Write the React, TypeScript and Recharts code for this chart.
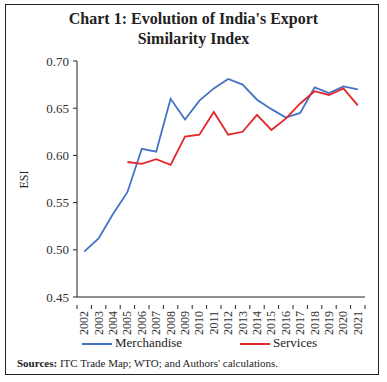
import React from 'react';
import { LineChart, Line, XAxis, YAxis } from 'recharts';

const years = ['2002','2003','2004','2005','2006','2007','2008','2009','2010','2011','2012','2013','2014','2015','2016','2017','2018','2019','2020','2021'];
const merchandise = [0.498,0.512,0.538,0.561,0.607,0.604,0.660,0.638,0.658,0.671,0.681,0.675,0.659,0.649,0.640,0.645,0.672,0.666,0.673,0.670];
const services = [null,null,null,0.593,0.591,0.596,0.590,0.620,0.622,0.646,0.622,0.625,0.643,0.627,0.639,0.655,0.668,0.664,0.671,0.653];
const yTicks = [0.45,0.50,0.55,0.60,0.65,0.70];

const data = years.map((y, i) => ({ year: y, merchandise: merchandise[i], services: services[i] }));

const FONT = '"Liberation Serif", "DejaVu Serif", serif';
const BLUE = '#4472C4';
const RED = '#E3262B';

const PLOT_LEFT = 77;
const PLOT_RIGHT = 365;
const BAND = (PLOT_RIGHT - PLOT_LEFT) / years.length;

const XTick = (props: any) => {
  const { x, y, payload } = props;
  return (
    <g>
      <line x1={x + BAND / 2} y1={y} x2={x + BAND / 2} y2={y + 4} stroke="#222" strokeWidth={1} />
      {payload.index === 0 && <line x1={x - BAND / 2} y1={y} x2={x - BAND / 2} y2={y + 4} stroke="#222" strokeWidth={1} />}
      <text x={0} y={0} transform={`translate(${x + 4},${y + 6}) rotate(-90)`} textAnchor="end" fontSize={12} fontFamily={FONT} fill="#333">
        {payload.value}
      </text>
    </g>
  );
};

export default function App() {
  return (
    <div style={{ position: 'absolute', left: 0, top: 0, width: 387, height: 382, background: '#fff' }}>
      <div style={{ position: 'absolute', left: 5, top: 4, width: 374, height: 371, border: '1.5px solid #222', boxSizing: 'border-box' }} />
      <div style={{ position: 'absolute', left: 0, top: 9, width: 387, textAlign: 'center', fontFamily: FONT, fontWeight: 'bold', fontSize: 16, lineHeight: '20px', color: '#222' }}>
        Chart 1: Evolution of India's Export<br />Similarity Index
      </div>
      <div style={{ position: 'absolute', left: 0, top: 0 }}>
        <LineChart width={387} height={382} data={data} margin={{ top: 61, right: 22, bottom: 50, left: 27 }}>
          <XAxis dataKey="year" interval={0} tick={<XTick />} tickLine={false} axisLine={{ stroke: '#222' }} height={35}
            padding={{ left: BAND / 2, right: BAND / 2 }} />
          <YAxis domain={[0.45, 0.70]} ticks={yTicks} width={50} tickFormatter={(v: number) => v.toFixed(2)}
            tick={{ fontSize: 13, fontFamily: FONT, fill: '#333' }} tickSize={4} tickMargin={4}
            axisLine={{ stroke: '#222' }} tickLine={{ stroke: '#222' }} />
          <Line dataKey="merchandise" stroke={BLUE} strokeWidth={1.8} dot={false} isAnimationActive={false} />
          <Line dataKey="services" stroke={RED} strokeWidth={1.8} dot={false} isAnimationActive={false} />
        </LineChart>
      </div>
      <div style={{ position: 'absolute', left: 14, top: 172, transform: 'rotate(-90deg)', transformOrigin: 'center', width: 20, textAlign: 'center', fontFamily: FONT, fontSize: 12, color: '#222' }}>ESI</div>
      <div style={{ position: 'absolute', left: 82, top: 343, width: 30, height: 2, background: BLUE }} />
      <div style={{ position: 'absolute', left: 115, top: 335, fontFamily: FONT, fontSize: 13, color: '#222' }}>Merchandise</div>
      <div style={{ position: 'absolute', left: 240, top: 343, width: 30, height: 2, background: RED }} />
      <div style={{ position: 'absolute', left: 273, top: 335, fontFamily: FONT, fontSize: 13, color: '#222' }}>Services</div>
      <div style={{ position: 'absolute', left: 17, top: 357, fontFamily: FONT, fontSize: 11, color: '#222' }}>
        <b>Sources:</b> ITC Trade Map; WTO; and Authors' calculations.
      </div>
    </div>
  );
}
